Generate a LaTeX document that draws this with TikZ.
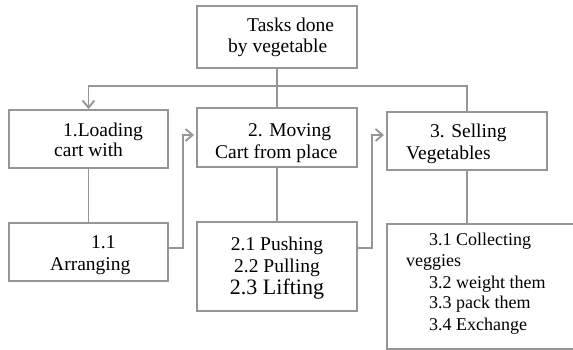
\documentclass[tikz,border=0pt]{standalone}
\usepackage{fontspec}
\setmainfont{Liberation Serif}
\usetikzlibrary{arrows.meta}
\definecolor{ln}{RGB}{150,150,150}
\begin{document}
\begin{tikzpicture}[x=1pt,y=-1pt,
  box/.style={draw=ln, line width=2pt, inner sep=0pt, outer sep=0pt, anchor=north west},
  conn/.style={draw=ln, line width=1.9pt},
  arr/.style={conn, -{Straight Barb[length=7pt,width=12pt]}},
  txt/.style={anchor=base west, inner sep=0pt, font=\fontsize{19.5}{21}\selectfont},
  ctxt/.style={txt, anchor=base},
  stxt/.style={txt, font=\fontsize{18}{20}\selectfont}]
\useasboundingbox (0,0) rectangle (573,350);
\clip (0,0) rectangle (573,350);
% boxes
\node[box, minimum width=160pt, minimum height=62pt] (top) at (197,6) {};
\node[box, minimum width=159pt, minimum height=58pt] (b1) at (9,110) {};
\node[box, minimum width=160pt, minimum height=59pt] (b2) at (197,108) {};
\node[box, minimum width=160pt, minimum height=58pt] (b3) at (387,112) {};
\node[box, minimum width=159pt, minimum height=58pt] (b11) at (9,223) {};
\node[box, minimum width=160pt, minimum height=89pt] (b21) at (197,222) {};
\node[box, minimum width=200pt, minimum height=125pt] (b31) at (387,224) {};
% connectors
\coordinate (bus) at (277,86);
\draw[conn] (top.south) -- (b2.north);
\draw[arr, shorten >=1pt] (bus) -| (b1.north);
\draw[conn] (bus) -| (b3.north);
\draw[conn] (b1.south) -- (b11.north);
\draw[conn] (b2.south) -- (b21.north);
\draw[conn] (b3.south) -- (b3.south |- b31.north);
\draw[arr, shorten >=3pt] ([yshift=4pt]b11.east) -- ++(15,0) |- ([yshift=2.5pt]b2.west);
\draw[arr, shorten >=3pt] ([yshift=18.5pt]b21.east) -- ++(15,0) |- ([yshift=6pt]b3.west);
% texts
\node[txt] (t0a) at (247,32) {Tasks done};
\node[txt] (t0b) at (228,53) {by vegetable};
\node[txt] (t1a) at (63,137) {1.Loading};
\node[txt] (t1b) at (54,157) {cart with};
\node[txt] (t2a) at (248,137) {2. Moving};
\node[txt] (t2b) at (215,158) {Cart from place};
\node[txt] (t3a) at (430,138) {3. Selling};
\node[txt] (t3b) at (406,160) {Vegetables};
\node[txt] (t11a) at (91,248) {1.1};
\node[txt] (t11b) at (50,270) {Arranging};
\node[ctxt] (t21a) at (277,250) {2.1 Pushing};
\node[ctxt] (t21b) at (277,272) {2.2 Pulling};
\node[ctxt, font=\fontsize{22}{24}\selectfont] (t21c) at (277,294) {2.3 Lifting};
\node[stxt] (t31a) at (429,245) {3.1 Collecting};
\node[stxt] (t31b) at (406,266) {veggies};
\node[stxt] (t31c) at (429,288) {3.2 weight them};
\node[stxt] (t31d) at (429,308) {3.3 pack them};
\node[stxt] (t31e) at (429,330) {3.4 Exchange};
\end{tikzpicture}
\end{document}
